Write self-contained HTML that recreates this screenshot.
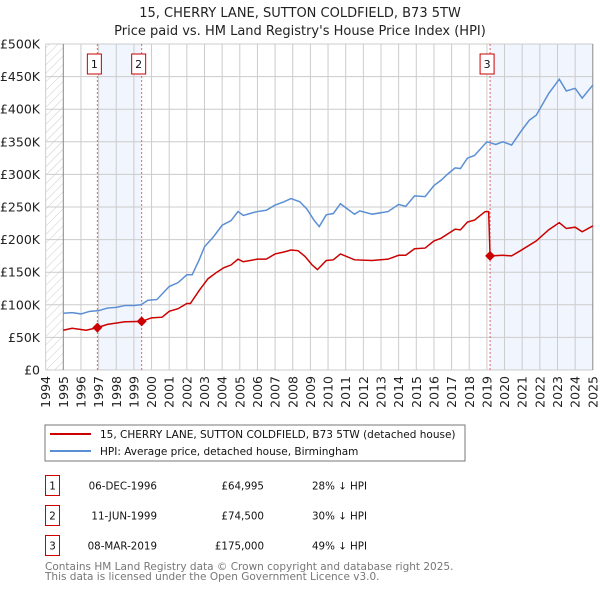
<!DOCTYPE html>
<html><head><meta charset="utf-8"><style>
body{margin:0;background:#fff;width:600px;height:590px;overflow:hidden;font-family:"DejaVu Sans","Liberation Sans",sans-serif;}
svg text{font-family:"DejaVu Sans","Liberation Sans",sans-serif;}
</style></head><body>
<svg id="c" width="600" height="590" xmlns="http://www.w3.org/2000/svg">
<defs><pattern id="hatch" width="6" height="6" patternUnits="userSpaceOnUse" patternTransform="rotate(45)"><line x1="0" y1="0" x2="0" y2="6" stroke="#ccc" stroke-width="1"/></pattern></defs>
<text x="300" y="17" text-anchor="middle" font-size="13" fill="#222">15, CHERRY LANE, SUTTON COLDFIELD, B73 5TW</text>
<text x="300" y="35" text-anchor="middle" font-size="13" fill="#222">Price paid vs. HM Land Registry's House Price Index (HPI)</text>
<g id="plot"></g>
<rect x="45" y="425" width="420" height="36" fill="#fff" stroke="#777"/>
<line x1="50" y1="434" x2="91" y2="434" stroke="#cc0000" stroke-width="2"/>
<text x="100" y="438" font-size="10.5" fill="#111">15, CHERRY LANE, SUTTON COLDFIELD, B73 5TW (detached house)</text>
<line x1="50" y1="451" x2="91" y2="451" stroke="#5b8fd4" stroke-width="2"/>
<text x="100" y="455" font-size="10.5" fill="#111">HPI: Average price, detached house, Birmingham</text>
<g font-size="10.3" fill="#111">
<rect x="45.5" y="475.5" width="14" height="20" fill="none" stroke="#cc0000"/><text x="52.5" y="489.5" text-anchor="middle">1</text>
<text x="157" y="489.5" text-anchor="end">06-DEC-1996</text><text x="264" y="489.5" text-anchor="end">£64,995</text><text x="312" y="489.5">28% ↓ HPI</text>
<rect x="45.5" y="505.5" width="14" height="20" fill="none" stroke="#cc0000"/><text x="52.5" y="519.5" text-anchor="middle">2</text>
<text x="157" y="519.5" text-anchor="end">11-JUN-1999</text><text x="264" y="519.5" text-anchor="end">£74,500</text><text x="312" y="519.5">30% ↓ HPI</text>
<rect x="45.5" y="535.5" width="14" height="20" fill="none" stroke="#cc0000"/><text x="52.5" y="549.5" text-anchor="middle">3</text>
<text x="157" y="549.5" text-anchor="end">08-MAR-2019</text><text x="264" y="549.5" text-anchor="end">£175,000</text><text x="312" y="549.5">49% ↓ HPI</text>
</g>
<text x="45" y="570" font-size="10.5" fill="#777">Contains HM Land Registry data © Crown copyright and database right 2025.</text>
<text x="45" y="580" font-size="10.5" fill="#777">This data is licensed under the Open Government Licence v3.0.</text>
</svg>
<script>
const hpiYears=[1995,1995.5,1996,1996.5,1997,1997.5,1998,1998.5,1999,1999.4,1999.8,2000.3,2001,2001.5,2002,2002.3,2002.7,2003,2003.5,2004,2004.5,2004.9,2005.2,2005.7,2006,2006.5,2007,2007.5,2007.9,2008.4,2008.8,2009.2,2009.5,2009.9,2010.3,2010.7,2011.5,2011.8,2012.5,2013.4,2014,2014.4,2014.9,2015.5,2016,2016.4,2016.8,2017.2,2017.5,2017.9,2018.3,2019,2019.5,2019.9,2020.4,2020.9,2021.4,2021.8,2022.5,2023.1,2023.5,2024,2024.4,2025];
const hpiValues=[87,88,86,90,91,95,96,99,99,100,107,108,128,134,146,146,169,189,204,222,229,243,237,241,243,245,253,258,263,258,247,230,220,238,240,255,239,244,239,243,254,251,267,266,283,291,301,310,309,325,329,350,346,350,345,365,383,391,424,446,428,432,417,437];
const priceYears=[1995,1995.5,1996.3,1996.93,1997.5,1998.5,1999.44,2000,2000.6,2001,2001.5,2002,2002.2,2002.7,2003.2,2003.7,2004.1,2004.5,2004.9,2005.2,2006,2006.5,2007,2007.5,2007.9,2008.3,2008.7,2009.1,2009.4,2009.9,2010.3,2010.7,2011.5,2012.5,2013.4,2014,2014.4,2014.9,2015.5,2016,2016.4,2017.2,2017.5,2017.9,2018.3,2018.9,2019.1,2019.18,2019.9,2020.4,2020.9,2021.8,2022.5,2023.1,2023.5,2024,2024.4,2025];
const priceValues=[61,64,61,65,70,74,74.5,80,81,90,94,102,102,122,140,150,157,161,170,166,170,170,178,181,184,183,174,161,154,168,169,178,169,168,170,176,176,186,187,198,202,216,215,227,230,243,243,175,176,175,183,198,215,226,217,219,212,221];
const saleYears=[1996.93,1999.44,2019.18];
const saleValues=[64.995,74.5,175];
const saleLabels=["1","2","3"];
const yTicks=[0,50,100,150,200,250,300,350,400,450,500];
const yTickLabels=["£0","£50K","£100K","£150K","£200K","£250K","£300K","£350K","£400K","£450K","£500K"];
const xTicks=[1994,1995,1996,1997,1998,1999,2000,2001,2002,2003,2004,2005,2006,2007,2008,2009,2010,2011,2012,2013,2014,2015,2016,2017,2018,2019,2020,2021,2022,2023,2024,2025];
const NS="http://www.w3.org/2000/svg";
const X=y=>63.3+(y-1995)*17.65;
const Y=v=>370-v*0.652;
const g=document.getElementById('plot');
function mk(t,a){const e=document.createElementNS(NS,t);for(const k in a)e.setAttribute(k,a[k]);g.appendChild(e);return e;}
let e;
e=mk('rect',{x:X(1994),y:Y(500),width:X(1995)-X(1994),height:Y(0)-Y(500),fill:'url(#hatch)'});


e=mk('rect',{x:X(saleYears[0]),y:Y(500),width:X(saleYears[1])-X(saleYears[0]),height:Y(0)-Y(500),fill:'#eef3fd',opacity:0.8});


e=mk('rect',{x:X(saleYears[2]),y:Y(500),width:X(2025)-X(saleYears[2]),height:Y(0)-Y(500),fill:'#eef3fd',opacity:0.8});


yTicks.forEach((v,i)=>{
 e=mk('line',{x1:X(1994),x2:X(2025),y1:Y(v),y2:Y(v),stroke:'#ccc'});
 
 
 e=mk('text',{x:40,y:Y(v)+4.5,'text-anchor':'end','font-size':12.5,fill:'#222'});e.textContent=yTickLabels[i];
 
 
});
xTicks.forEach(yr=>{
 e=mk('line',{x1:X(yr),x2:X(yr),y1:Y(500),y2:Y(0),stroke:(yr==1995||yr==2025)?'#888':'#ccc'});
 
 
 e=mk('text',{x:0,y:0,'text-anchor':'end','font-size':12.5,fill:'#222',transform:`translate(${X(yr)+4.5},376) rotate(-90)`});e.textContent=yr;
 
 
});
saleYears.forEach((yr,i)=>{
 e=mk('line',{x1:X(yr),x2:X(yr),y1:Y(500),y2:Y(0),stroke:'#e06666','stroke-dasharray':'2,2'});
 
 
 e=mk('rect',{x:X(yr)-10,y:54,width:14,height:20,fill:'#fff',stroke:'#cc0000'});
 
 
 e=mk('text',{x:X(yr)-3,y:68,'text-anchor':'middle','font-size':11,fill:'#111'});e.textContent=saleLabels[i];
 
 
});
e=mk('polyline',{points:hpiYears.map((y,i)=>X(y)+','+Y(hpiValues[i])).join(' '),fill:'none',stroke:'#5b8fd4','stroke-width':1.5});


e=mk('polyline',{points:priceYears.map((y,i)=>X(y)+','+Y(priceValues[i])).join(' '),fill:'none',stroke:'#cc0000','stroke-width':1.5});


saleYears.forEach((yr,i)=>{
 const cx=X(yr),cy=Y(saleValues[i]);
 e=mk('polygon',{points:`${cx},${cy-5} ${cx+5},${cy} ${cx},${cy+5} ${cx-5},${cy}`,fill:'#cc0000'});
 
 
});
</script>
</body></html>
